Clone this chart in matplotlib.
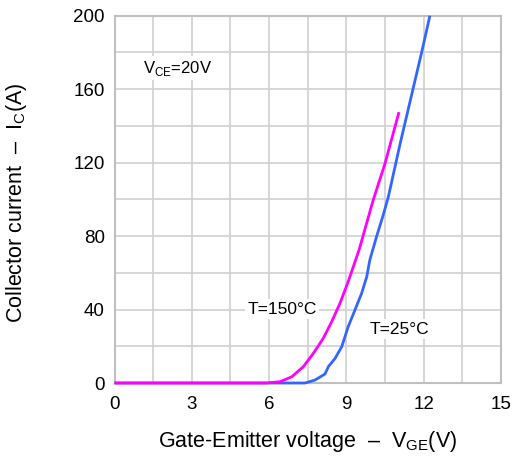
import matplotlib
matplotlib.use("Agg")
import matplotlib.pyplot as plt
from matplotlib.ticker import MultipleLocator

plt.rcParams["font.family"] = ["Liberation Sans", "DejaVu Sans"]
plt.rcParams["mathtext.fontset"] = "custom"
plt.rcParams["mathtext.rm"] = "Liberation Sans"

# Transfer characteristics: collector current vs gate-emitter voltage
vge_150 = [0, 5.9, 6.42, 6.88, 7.33, 7.72, 8.10, 8.43, 8.75, 9.07, 9.49, 10.04, 10.5, 11.04]
ic_150 = [0, 0, 0.7, 3.4, 8.9, 16.2, 24.3, 33.4, 43.4, 55.2, 72.4, 99.6, 119.6, 147.5]

vge_25 = [0, 7.4, 7.78, 8.17, 8.30, 8.56, 8.82, 9.07, 9.33, 9.59, 9.79, 9.91,
          10.17, 10.43, 10.63, 11.08, 11.6, 11.92, 12.24]
ic_25 = [0, 0, 1.6, 4.9, 8.9, 13.4, 19.8, 30.7, 39.7, 48.8, 57.9, 67,
         79.7, 91.5, 101.5, 130, 161, 180, 200]

x_ticks = [0, 3, 6, 9, 12, 15]
y_ticks = [0, 40, 80, 120, 160, 200]

fig = plt.figure(figsize=(5.13, 4.57), dpi=100)
ax = fig.add_axes([0.2232, 0.1619, 0.7534, 0.8037])

grid_c = "#cfcfcf"
ax.set_xlim(0, 15)
ax.set_ylim(0, 200)
ax.xaxis.set_minor_locator(MultipleLocator(1.5))
ax.yaxis.set_minor_locator(MultipleLocator(20))
ax.set_xticks(x_ticks)
ax.set_yticks(y_ticks)
ax.grid(True, which="both", color=grid_c, linewidth=1.2)
ax.set_axisbelow(True)
ax.tick_params(which="both", length=0, labelsize=13.5, colors="black")
ax.tick_params(axis="y", pad=7)
ax.tick_params(axis="x", pad=9.5)
for s in ax.spines.values():
    s.set_color("#c0c0c0")
    s.set_linewidth(1.5)

ax.plot(vge_25, ic_25, color="#3366ff", linewidth=2.0, solid_capstyle="butt",
        clip_on=False, zorder=5)
ax.plot(vge_150, ic_150, color="#ff00ff", linewidth=2.0, solid_capstyle="butt",
        clip_on=False, zorder=6)

box = dict(facecolor="white", edgecolor="none", pad=2)
ax.text(1.1, 171.5, r"V$_{\mathregular{CE}}$=20V", fontsize=12, ha="left", va="center", bbox=box)
ax.text(6.5, 40.3, "T=150°C", fontsize=12.5, ha="center", va="center", bbox=box)
ax.text(11.04, 29.4, "T=25°C", fontsize=12.5, ha="center", va="center", bbox=box)

fig.text(307.5 / 513, 1 - 441.7 / 457, r"Gate-Emitter voltage  –  V$_{\mathregular{GE}}$(V)",
         fontsize=15.5, ha="center", va="center")
fig.text(17 / 513, 1 - 203 / 457, r"Collector current  –  I$_{\mathregular{C}}$(A)",
         fontsize=15.5, ha="center", va="center", rotation=90)

fig.savefig("out.png", dpi=100)
